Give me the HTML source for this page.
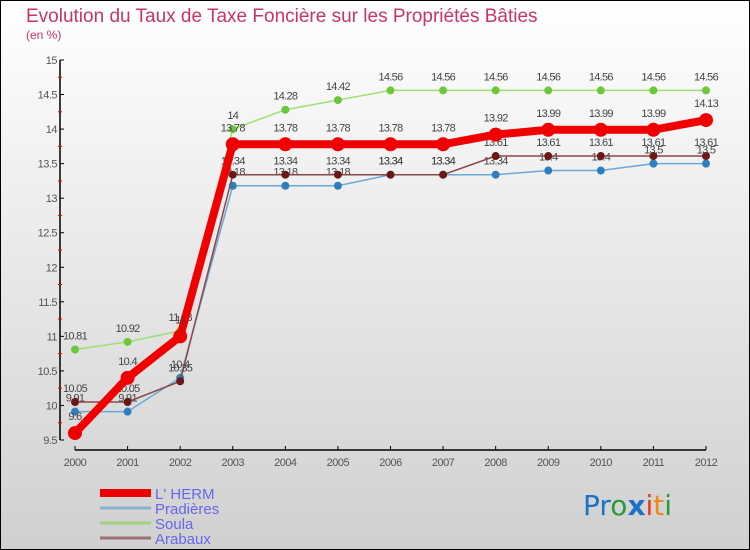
<!DOCTYPE html>
<html><head><meta charset="utf-8"><style>
body{margin:0}
svg{display:block;font-family:"Liberation Sans",sans-serif}
</style></head><body>
<svg id="c" width="750" height="550">
<defs><linearGradient id="bg" x1="0" y1="0" x2="0" y2="1"><stop offset="0" stop-color="#ffffff"/><stop offset="1" stop-color="#d0d0d0"/></linearGradient></defs>
<rect x="0.5" y="0.5" width="749" height="549" fill="url(#bg)" stroke="#000"/>
<text x="26" y="22" font-size="19" fill="#c8336a">Evolution du Taux de Taxe Foncière sur les Propriétés Bâties</text>
<text x="26" y="39" font-size="12" fill="#c8336a">(en %)</text>
<g id="axes"></g><g id="series"></g><g id="legend"></g>
<text x="583" y="515" font-size="28" font-family="'DejaVu Sans',sans-serif"><tspan fill="#1a73c8">Pr</tspan><tspan fill="#2a9a3a">o</tspan><tspan fill="#1a73c8" font-weight="bold">x</tspan><tspan fill="#e83a1a">i</tspan><tspan fill="#f08a10">t</tspan><tspan fill="#2a9a3a">i</tspan></text>
</svg>
<script>
const years=[2000,2001,2002,2003,2004,2005,2006,2007,2008,2009,2010,2011,2012];
const yTicks=[9.5,10,10.5,11,11.5,12,12.5,13,13.5,14,14.5,15];
const names=["L' HERM","Pradières","Soula","Arabaux"];
const herm=[9.6,10.4,11,13.78,13.78,13.78,13.78,13.78,13.92,13.99,13.99,13.99,14.13];
const pradieres=[9.91,9.91,10.4,13.18,13.18,13.18,13.34,13.34,13.34,13.4,13.4,13.5,13.5];
const soula=[10.81,10.92,11.08,14,14.28,14.42,14.56,14.56,14.56,14.56,14.56,14.56,14.56];
const arabaux=[10.05,10.05,10.35,13.34,13.34,13.34,13.34,13.34,13.61,13.61,13.61,13.61,13.61];
const NS="http://www.w3.org/2000/svg";
const X=i=>75+i*(706-75)/(years.length-1);
const Y=v=>60+(15-v)*(380/5.5);
function mk(p,t,a){const e=document.createElementNS(NS,t);for(const k in a)e.setAttribute(k,a[k]);p.appendChild(e);return e;}
const ax=document.getElementById('axes');
const yl=mk(ax,'line',{x1:60,y1:60,x2:60,y2:440,stroke:'#000','stroke-width':1.5});


yTicks.forEach(v=>{
 mk(ax,'line',{x1:60,y1:Y(v),x2:64,y2:Y(v),stroke:'#000'});
 if(v<15){mk(ax,'line',{x1:58,y1:Y(v+0.25),x2:62,y2:Y(v+0.25),stroke:'#e00'});}
 const t=mk(ax,'text',{x:57,y:Y(v)+4,'text-anchor':'end','font-size':11,fill:'#555','letter-spacing':'-0.5'});
 t.textContent=String(v);
 
 
});
const xl=mk(ax,'line',{x1:75,y1:450,x2:706,y2:450,stroke:'#000','stroke-width':1.5});


years.forEach((yr,i)=>{
 mk(ax,'line',{x1:X(i),y1:446,x2:X(i),y2:450,stroke:'#000'});
 const t=mk(ax,'text',{x:X(i),y:466,'text-anchor':'middle','font-size':11,fill:'#555','letter-spacing':'-0.5'});
 t.textContent=yr;
 
 
});
const sr=document.getElementById('series');
const defs=[
 {d:pradieres,c:'#6aa8d8',m:'#2f7fc0',w:1.5,r:4,n:'pradieres'},
 {d:soula,c:'#9ee070',m:'#6cc83a',w:1.5,r:4,n:'soula'},
 {d:arabaux,c:'#8a4848',m:'#6a1818',w:1.5,r:4,n:'arabaux'},
 {d:herm,c:'#f00000',m:'#f00000',w:8,r:7,n:'lherm'}];
defs.forEach(s=>{
 const g=mk(sr,'g',{});
 
 
 const pl=mk(g,'polyline',{points:s.d.map((v,i)=>X(i)+','+Y(v)).join(' '),fill:'none',stroke:s.c,'stroke-width':s.w});
 
 
 s.d.forEach((v,i)=>{
  const c=mk(g,'circle',{cx:X(i),cy:Y(v),r:s.r,fill:s.m});
  
  
  const t=mk(g,'text',{x:X(i),y:Y(v)-(s.r+6),'text-anchor':'middle','font-size':11,fill:'#444','letter-spacing':'-0.7'});
  t.textContent=String(v);
  
  
 });
});
const lg=document.getElementById('legend');
const lc=[['#ee0000',8],['#8ab0cc',3],['#a0d080',3],['#9a7070',3]];
names.forEach((n,i)=>{
 const y=493+i*15;
 const l=mk(lg,'line',{x1:100,y1:y,x2:151,y2:y,stroke:lc[i][0],'stroke-width':lc[i][1]});
 
 
 const t=mk(lg,'text',{x:155,y:y+6,'font-size':15,fill:'#6666ee'});
 t.textContent=n;
 
 
});
</script>
</body></html>
